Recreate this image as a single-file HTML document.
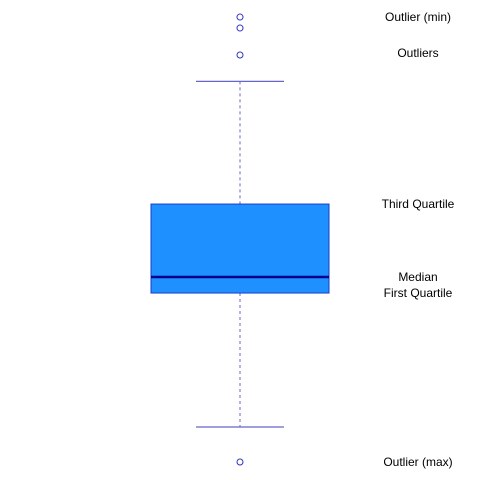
<!DOCTYPE html>
<html><head><meta charset="utf-8">
<style>
html,body{margin:0;padding:0;background:#fff;}
svg{display:block;}
text{font-family:"Liberation Sans",sans-serif;font-size:12px;fill:#000;}
</style></head>
<body>
<svg id="chart" width="480" height="480" viewBox="0 0 480 480" xmlns="http://www.w3.org/2000/svg"></svg>
<script>
// data (arbitrary value units)
const boxStats = [5.18, 17.36, 18.82, 25.45, 36.6]; // lower whisker, Q1, median, Q3, upper whisker
const outliers = [42.45, 41.45, 39.0, 2.0];
const labelTexts = ["Outlier (min)", "Outliers", "Third Quartile", "Median", "First Quartile", "Outlier (max)"];
const labelValues = [42.45, 39.2, 25.45, 18.82, 17.36, 2.0];

function yScale(v){ return 462 - (v - 2) * 11; }
const cx = 240, boxHalf = 89, capHalf = 44, labelX = 418;
const svg = document.getElementById('chart');
const NS = 'http://www.w3.org/2000/svg';
function mk(tag, attrs){ const e = document.createElementNS(NS, tag); for (const k in attrs) e.setAttribute(k, attrs[k]); svg.appendChild(e); return e; }

let e;
e = mk('line',{x1:cx,x2:cx,y1:yScale(boxStats[4]),y2:yScale(boxStats[3]),stroke:'#6666cc','stroke-width':1,'stroke-dasharray':'3,3'});


e = mk('line',{x1:cx,x2:cx,y1:yScale(boxStats[1]),y2:yScale(boxStats[0]),stroke:'#6666cc','stroke-width':1,'stroke-dasharray':'3,3'});


e = mk('line',{x1:cx-capHalf,x2:cx+capHalf,y1:yScale(boxStats[4]),y2:yScale(boxStats[4]),stroke:'#6666cc','stroke-width':1.2});


e = mk('line',{x1:cx-capHalf,x2:cx+capHalf,y1:yScale(boxStats[0]),y2:yScale(boxStats[0]),stroke:'#6666cc','stroke-width':1.2});


e = mk('rect',{x:cx-boxHalf,y:yScale(boxStats[3]),width:boxHalf*2,height:yScale(boxStats[1])-yScale(boxStats[3]),fill:'#1e90ff',stroke:'#1a3ccc','stroke-width':1});


e = mk('line',{x1:cx-boxHalf,x2:cx+boxHalf,y1:yScale(boxStats[2]),y2:yScale(boxStats[2]),stroke:'#00008b','stroke-width':2.5});


outliers.forEach(function(v){
  const c = mk('circle',{cx:cx,cy:yScale(v),r:3,fill:'none',stroke:'#3333bb','stroke-width':1});
  
  
});
labelTexts.forEach(function(t,i){
  const tx = mk('text',{x:labelX,y:yScale(labelValues[i])+4,'text-anchor':'middle'});
  tx.textContent = t;
  
  
});
</script>
</body></html>
